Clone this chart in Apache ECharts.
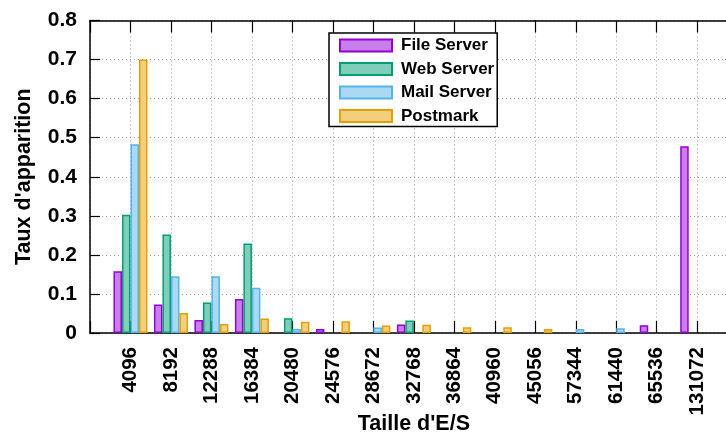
<!DOCTYPE html>
<html>
<head>
<meta charset="utf-8">
<script src="https://cdn.jsdelivr.net/npm/echarts@6/dist/echarts.min.js"></script>
<style>html,body{margin:0;padding:0;background:#fff}#c{width:726px;height:434px}</style>
</head>
<body>
<div id="c"></div>
<script>
const categories = ['4096','8192','12288','16384','20480','24576','28672','32768','36864','40960','45056','57344','61440','65536','131072'];
const fileServer = [0.158, 0.073, 0.033, 0.087, null, 0.010, null, 0.022, null, null, null, null, null, 0.020, 0.478];
const webServer  = [0.303, 0.252, 0.078, 0.229, 0.038, null, null, 0.032, null, null, null, null, null, null, null];
const mailServer = [0.483, 0.145, 0.145, 0.116, 0.010, null, 0.014, null, null, null, null, 0.010, 0.012, null, null];
const postmark   = [0.700, 0.051, 0.023, 0.037, 0.029, 0.030, 0.019, 0.021, 0.015, 0.015, 0.010, null, null, null, null];
const yTicks = [0, 0.1, 0.2, 0.3, 0.4, 0.5, 0.6, 0.7, 0.8];

const FONT = 'Liberation Sans';
const seriesDefs = [
  {name: 'File Server', data: fileServer, border: '#9400d3', fill: '#c97fe9'},
  {name: 'Web Server', data: webServer, border: '#009e73', fill: '#7fceb9'},
  {name: 'Mail Server', data: mailServer, border: '#56b4e9', fill: '#aad9f4'},
  {name: 'Postmark', data: postmark, border: '#e69f00', fill: '#f2cf7f'}
];

const chart = echarts.init(document.getElementById('c'), null, {renderer: 'canvas'});
chart.setOption({
  animation: false,
  backgroundColor: '#fff',
  grid: {left: 90, top: 20.5, width: 647.7, height: 312.5, containLabel: false, outerBoundsMode: 'none'},
  legend: {
    orient: 'vertical', left: 329, top: 33,
    itemWidth: 52, itemHeight: 12, itemGap: 3.5,
    padding: [2.5, 3, 0.5, 10],
    borderColor: '#000', borderWidth: 1.5, backgroundColor: '#fff',
    icon: 'rect',
    textStyle: {fontFamily: FONT, fontWeight: 'bold', fontSize: 17, color: '#000', lineHeight: 20, padding: [0, 0, 0, 4]},
    data: seriesDefs.map(s => s.name)
  },
  xAxis: [{
    type: 'value', min: -1, max: 15, interval: 1, position: 'bottom',
    name: "Taille d'E/S", nameLocation: 'middle', nameGap: 80, nameMoveOverlap: false,
    nameTextStyle: {fontFamily: FONT, fontWeight: 'bold', fontSize: 21.5, color: '#000'},
    axisLine: {show: true, onZero: false, lineStyle: {color: '#000', width: 1.5}},
    axisTick: {show: true, inside: true, length: 12, lineStyle: {color: '#000', width: 1.2}},
    axisLabel: {
      rotate: 90, margin: 14, fontFamily: FONT, fontWeight: 'bold', fontSize: 20.5, color: '#000',
      showMinLabel: true, showMaxLabel: true,
      formatter: v => (categories[v] !== undefined ? categories[v] : '')
    },
    splitLine: {show: true, lineStyle: {color: '#999', width: 1, type: [1, 3]}}
  }, {
    type: 'value', min: -1, max: 15, interval: 1, position: 'top',
    axisLine: {show: true, onZero: false, lineStyle: {color: '#000', width: 1.5}},
    axisTick: {show: true, inside: true, length: 12, lineStyle: {color: '#000', width: 1.2}},
    axisLabel: {show: false}, splitLine: {show: false}
  }],
  yAxis: [{
    type: 'value', min: 0, max: 0.8, interval: 0.1, position: 'left',
    name: "Taux d'apparition", nameLocation: 'middle', nameGap: 55, nameMoveOverlap: false,
    nameTextStyle: {fontFamily: FONT, fontWeight: 'bold', fontSize: 21.5, color: '#000'},
    axisLine: {show: true, onZero: false, lineStyle: {color: '#000', width: 1.5}},
    axisTick: {show: true, inside: true, length: 10, lineStyle: {color: '#000', width: 1.2}},
    axisLabel: {margin: 13, fontFamily: FONT, fontWeight: 'bold', fontSize: 21, color: '#000',
      formatter: v => { const t = yTicks.find(x => Math.abs(x - v) < 1e-9); return t === undefined ? '' : String(t); }},
    splitLine: {show: true, lineStyle: {color: '#999', width: 1, type: [1, 3]}}
  }, {
    type: 'value', min: 0, max: 0.8, interval: 0.1, position: 'right',
    axisLine: {show: true, onZero: false, lineStyle: {color: '#000', width: 1.5}},
    axisTick: {show: true, inside: true, length: 12, lineStyle: {color: '#000', width: 1.2}},
    axisLabel: {show: false}, splitLine: {show: false}
  }],
  series: seriesDefs.map(s => ({
    name: s.name, type: 'bar', xAxisIndex: 0, yAxisIndex: 0,
    barWidth: 8.5, barGap: '0%',
    itemStyle: {color: s.fill, borderColor: s.border, borderWidth: 1.5},
    data: s.data.map((v, i) => [i, v])
  }))
});
</script>
</body>
</html>
